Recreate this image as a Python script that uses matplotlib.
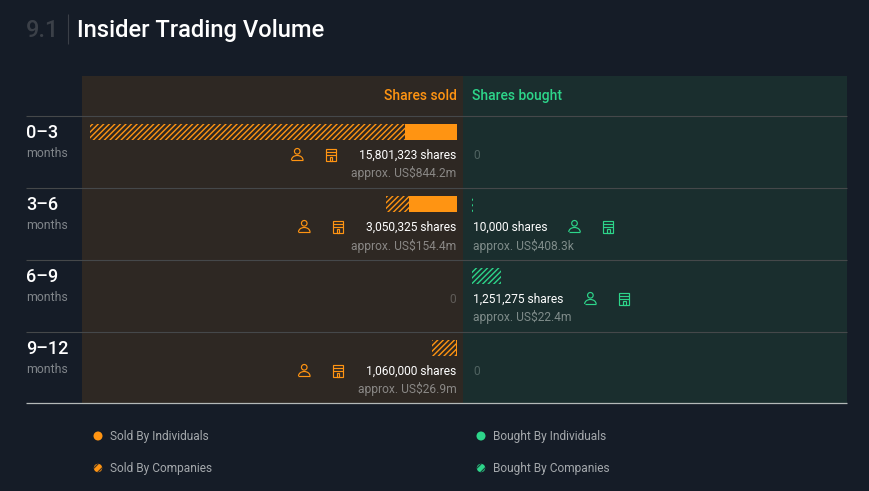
import matplotlib
matplotlib.use("Agg")
import matplotlib.pyplot as plt
from matplotlib.patches import Rectangle, Circle, Arc

plt.rcParams['font.family'] = ['Roboto', 'DejaVu Sans']
plt.rcParams['hatch.linewidth'] = 1.0
plt.rcParams['lines.solid_capstyle'] = 'butt'

# Data
periods = ["0\u20133", "3\u20136", "6\u20139", "9\u201312"]
sold_individuals = [2240000, 2060000, 0, 40000]
sold_companies = [13561323, 990325, 0, 1020000]
bought_individuals = [0, 0, 0, 0]
bought_companies = [0, 10000, 1251275, 0]
sold_shares = ["15,801,323 shares", "3,050,325 shares", "0", "1,060,000 shares"]
sold_values = ["approx. US$844.2m", "approx. US$154.4m", "", "approx. US$26.9m"]
bought_shares = ["0", "10,000 shares", "1,251,275 shares", "0"]
bought_values = ["", "approx. US$408.3k", "approx. US$22.4m", ""]
max_shares = 15801323
# smallest non zero bar still shows about one pixel
min_bar = 40000

BG = "#151c27"
SOLD_BG = "#2e2823"
BOUGHT_BG = "#1a2e2e"
ORANGE = "#ff9412"
GREEN = "#2dd58a"
LINE = "#45484a"

row_tops = [116.5, 188.5, 260.5, 332.5]

fig = plt.figure(figsize=(8.7, 4.91), dpi=100, facecolor=BG)
ax = fig.add_axes([0, 0, 1, 1])
ax.set_xlim(0, 870)
ax.set_ylim(491, 0)
ax.axis("off")

# Background bands
ax.add_patch(Rectangle((82, 76), 381, 327, color=SOLD_BG, lw=0))
ax.add_patch(Rectangle((463, 76), 384, 327, color=BOUGHT_BG, lw=0))

# Title
ax.text(26, 30, "9.1", color="#3b4048", fontsize=17, fontweight="medium", va="center")
ax.plot([68, 68], [14, 44], color="#3a3f47", lw=0.8)
ax.text(77, 30, "Insider Trading Volume", color="white", fontsize=17.1, fontweight="medium", va="center")

# Headers
ax.text(456.5, 95.5, "Shares sold", color=ORANGE, fontsize=10, fontweight="medium", ha="right", va="center")
ax.text(472, 95.5, "Shares bought", color=GREEN, fontsize=10, fontweight="medium", ha="left", va="center")

# Row lines
for top in row_tops:
    ax.plot([26, 847], [top - 0.7, top - 0.7], color=LINE, lw=0.8)
ax.plot([26, 847], [402.8, 402.8], color="#b4b9b8", lw=0.9)


def draw_icons(x, y, color):
    # person
    ax.add_patch(Circle((x, y - 3.2), 2.8, fill=False, ec=color, lw=0.85))
    ax.add_patch(Arc((x, y + 5.5), 11.5, 9, theta1=180, theta2=360, ec=color, lw=0.85))
    ax.plot([x - 5.8, x + 5.8], [y + 5.5, y + 5.5], color=color, lw=0.85)
    # building
    bx = x + 29
    ax.add_patch(Rectangle((bx, y - 5.5), 9.5, 11.5, fill=False, ec=color, lw=0.85))
    ax.plot([bx, bx + 9.5], [y - 2.2, y - 2.2], color=color, lw=0.85)
    ax.plot([bx, bx + 9.5], [y + 0.8, y + 0.8], color=color, lw=0.85)
    ax.add_patch(Rectangle((bx + 3.4, y + 2.6), 2.8, 3.4, fill=False, ec=color, lw=0.85))


# Row labels
for i, top in enumerate(row_tops):
    ax.text(26, top + 16, periods[i], color="white", fontsize=13, fontweight="medium", va="center")
    ax.text(26, top + 37, "months", color="#80858a", fontsize=8.8, va="center")

    y1 = top + 38.5
    y2 = top + 57
    if sold_values[i]:
        t = ax.text(456.5, y1, sold_shares[i], color="white", fontsize=8.65, ha="right", va="center")
        ax.text(456.5, y2, sold_values[i], color="#8a8886", fontsize=8.65, ha="right", va="center")
        fig.canvas.draw()
        w = t.get_window_extent().width
        draw_icons(456.5 - w - 62, y1 - 0.5, ORANGE)
    else:
        ax.text(456.5, y1 + 0.5, sold_shares[i], color="#5f5c58", fontsize=8.65, ha="right", va="center")
    if bought_values[i]:
        t = ax.text(473, y1, bought_shares[i], color="white", fontsize=8.65, ha="left", va="center")
        ax.text(473, y2, bought_values[i], color="#7f8c8a", fontsize=8.65, ha="left", va="center")
        fig.canvas.draw()
        w = t.get_window_extent().width
        draw_icons(473 + w + 27, y1 - 0.5, GREEN)
    else:
        ax.text(473, y1 + 0.5, bought_shares[i], color="#506361", fontsize=8.65, ha="left", va="center")

# Bars, one axes per side scaled by share count
bar_y = [top + 15.5 for top in row_tops]

ax_sold = fig.add_axes([90 / 870, 0, 367 / 870, 1])
ax_sold.set_xlim(max_shares, 0)
ax_sold.set_ylim(491, 0)
ax_sold.axis("off")
ax_sold.barh(bar_y, sold_individuals, height=16, color=ORANGE, lw=0)
ax_sold.barh(bar_y, sold_companies, left=sold_individuals, height=16, facecolor="none",
             edgecolor=ORANGE, hatch="//////", lw=0)

ax_bought = fig.add_axes([472 / 870, 0, 367 / 870, 1])
ax_bought.set_xlim(0, max_shares)
ax_bought.set_ylim(491, 0)
ax_bought.axis("off")
ax_bought.barh(bar_y, bought_individuals, height=16, color=GREEN, lw=0)
bought_widths = [max(v, min_bar) if v else 0 for v in bought_companies]
ax_bought.barh(bar_y, bought_widths, left=bought_individuals, height=16, facecolor="none",
               edgecolor=GREEN, hatch="//////", lw=0)

# Legend
ax.scatter([98, 481], [436, 436], s=42, color=[ORANGE, GREEN], lw=0)
for x, c in [(98, ORANGE), (481, GREEN)]:
    marker = Circle((x, 468), 4.2, color=c, lw=0)
    ax.add_patch(marker)
    for off in (-2, 2):
        stripe, = ax.plot([x - 6 + off, x + 6 + off], [474 + off, 462 + off], color=BG, lw=0.9, alpha=0.8)
        stripe.set_clip_path(marker)
for x, y, label in [(110, 436.5, "Sold By Individuals"), (110, 468.5, "Sold By Companies"),
                    (493, 436.5, "Bought By Individuals"), (493, 468.5, "Bought By Companies")]:
    ax.text(x, y, label, color="#a4a8ac", fontsize=8.6, va="center")

fig.savefig("out.png", dpi=100, facecolor=BG)
